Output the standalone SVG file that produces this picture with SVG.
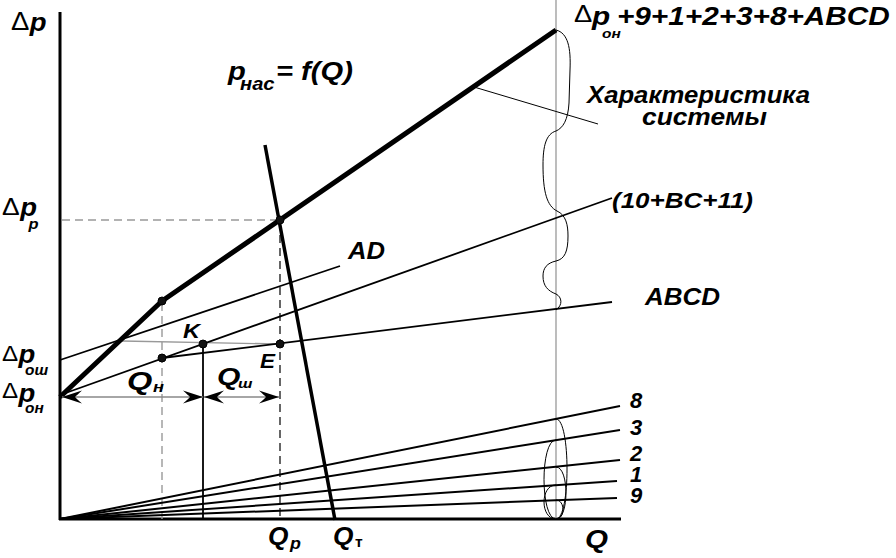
<svg xmlns="http://www.w3.org/2000/svg" width="896" height="558" viewBox="0 0 896 558">
<style>
.t{font-family:"Liberation Sans",Arial,sans-serif;font-weight:bold;font-style:italic;fill:#000}
.d{font-family:"Liberation Sans",Arial,sans-serif;font-weight:normal;font-style:normal;fill:#000}
.u{font-family:"Liberation Sans",Arial,sans-serif;font-weight:bold;font-style:normal;fill:#000}
.ax{stroke:#000;stroke-width:3;fill:none}
.ln{stroke:#000;stroke-width:1.8;fill:none}
.ray{stroke:#000;stroke-width:2;fill:none}
.gray{stroke:#999;stroke-width:1.3;fill:none}
.gd{stroke:#999;stroke-width:1.4;stroke-dasharray:8 5;fill:none}
.bd{stroke:#000;stroke-width:1.2;stroke-dasharray:8 5;fill:none}
.br{stroke:#000;stroke-width:1;fill:none}
.dot{fill:#111;stroke:#000;stroke-width:1}
</style>
<defs>
<marker id="ah" viewBox="-21 -7 22 14" refX="0" refY="0" markerWidth="22" markerHeight="14" markerUnits="userSpaceOnUse" orient="auto-start-reverse">
<path d="M0,0 L-20,-6.5 Q-15,-2 -13,0 Q-15,2 -20,6.5 Z" fill="#000"/>
</marker>
</defs>
<g id="axes">
<line class="ax" x1="60" y1="12" x2="60" y2="520"/>
<line class="ax" x1="59" y1="519" x2="621" y2="519"/>
<line class="gray" x1="556" y1="0" x2="556" y2="519"/>
</g>
<g id="connectors">
<line class="gd" x1="62" y1="220" x2="278" y2="220"/>
<line class="bd" x1="280" y1="222" x2="280" y2="519"/>
<line class="gd" x1="162" y1="303" x2="162" y2="519"/>
<line class="ln" x1="203" y1="344" x2="203" y2="519" stroke-width="1.2"/>
<line class="gray" x1="122" y1="341" x2="280" y2="344"/>
<line class="ln" x1="60" y1="360" x2="340" y2="266"/>
<line class="ln" x1="60" y1="395" x2="612" y2="198"/>
<line class="ln" x1="162" y1="358" x2="612" y2="302"/>
<line class="ray" x1="60" y1="519" x2="620" y2="406"/>
<line class="ray" x1="60" y1="519" x2="620" y2="430"/>
<line class="ray" x1="60" y1="519" x2="620" y2="460"/>
<line class="ray" x1="60" y1="519" x2="617" y2="481"/>
<line class="ray" x1="60" y1="519" x2="617" y2="498"/>
<polyline points="60,397 162,301 556,30" fill="none" stroke="#000" stroke-width="5" stroke-linejoin="round"/>
<line x1="265" y1="145" x2="335" y2="520" stroke="#000" stroke-width="3.5"/>
<line class="br" x1="474" y1="87" x2="598" y2="124"/>
<line x1="62" y1="397" x2="203" y2="397" stroke="#888" stroke-width="1.3" marker-start="url(#ah)" marker-end="url(#ah)"/>
<line x1="204" y1="397" x2="279" y2="397" stroke="#888" stroke-width="1.3" marker-start="url(#ah)" marker-end="url(#ah)"/>
<path class="br" d="M556,30 C568,33 571,48 570,70 L569,103 C568,120 563,128 556,131 C546,134 543,146 543,165 C543,192 547,206 557,211 C566,215 568,225 568,236 C568,251 565,259 556,261 C547,263 543,268 543,276 C543,286 548,291 556,294 C562,297 563,305 556,310"/>
<path class="br" d="M556,419 C570.7,419 570.7,519 556,519"/>
<path class="br" d="M556,440 C540,440 540,519 556,519"/>
<path class="br" d="M556,467 C569.3,467 569.3,519 556,519"/>
<path class="br" d="M556,485 C540,485 540,519 556,519"/>
<path class="br" d="M556,500 C565.3,500 565.3,519 556,519"/>
</g>
<g id="points">
<circle class="dot" cx="162" cy="301" r="4"/>
<circle class="dot" cx="162" cy="358" r="4"/>
<circle class="dot" cx="203" cy="344" r="4"/>
<circle class="dot" cx="280" cy="344" r="4"/>
<circle class="dot" cx="280" cy="220" r="4"/>
</g>
<g id="label-dp">
<text transform="translate(11,30) scale(1.1,1)"><tspan class="d" font-size="25">Δ</tspan><tspan class="t" x="17" y="1" font-size="25">p</tspan></text>
</g>
<g id="label-dpp">
<text transform="translate(2,215) scale(1.1,1)"><tspan class="d" font-size="24">Δ</tspan><tspan class="t" x="16.5" y="1" font-size="25">p</tspan><tspan class="t" x="24" y="14" font-size="15">p</tspan></text>
</g>
<g id="label-dp0sh">
<text transform="translate(2,361) scale(1.1,1)"><tspan class="d" font-size="22">Δ</tspan><tspan class="t" x="15" y="2" font-size="25">p</tspan><tspan class="t" x="21" y="14" font-size="14">ош</tspan></text>
</g>
<g id="label-dp0n">
<text transform="translate(2,398) scale(1.1,1)"><tspan class="d" font-size="22">Δ</tspan><tspan class="t" x="15" y="4" font-size="25">p</tspan><tspan class="t" x="21" y="15" font-size="14">он</tspan></text>
</g>
<g id="label-pnas">
<text transform="translate(228,80) scale(1.12,1)"><tspan class="t" font-size="26">p</tspan><tspan class="t" x="10.7" y="10" font-size="18">нас</tspan><tspan class="t" x="42.9" y="0" font-size="26">= f(Q)</tspan></text>
</g>
<g id="label-total">
<text transform="translate(574,22) scale(1.19,1)"><tspan class="d" font-size="23">Δ</tspan><tspan class="t" x="15.1" y="3" font-size="25">p</tspan><tspan class="t" x="23.5" y="16" font-size="13">он</tspan><tspan class="t" x="36.1" y="3" font-size="25">+9+1+2+3+8+ABCD</tspan></text>
</g>
<g id="label-system">
<text class="t" x="587" y="103" font-size="23" textLength="223" lengthAdjust="spacingAndGlyphs">Характеристика</text>
<text class="t" x="642" y="125" font-size="23" textLength="125" lengthAdjust="spacingAndGlyphs">системы</text>
</g>
<g id="label-bc">
<text class="t" x="612" y="208" font-size="22" textLength="141" lengthAdjust="spacingAndGlyphs">(10+BC+11)</text>
</g>
<g id="label-abcd">
<text class="t" x="645" y="305" font-size="24" textLength="75" lengthAdjust="spacingAndGlyphs">ABCD</text>
</g>
<g id="label-ad">
<text class="t" x="348" y="259" font-size="23" textLength="37" lengthAdjust="spacingAndGlyphs">AD</text>
</g>
<g id="label-k"><text class="t" x="183" y="338" font-size="21" textLength="17" lengthAdjust="spacingAndGlyphs">K</text></g>
<g id="label-e"><text class="t" x="260" y="368" font-size="21" textLength="15" lengthAdjust="spacingAndGlyphs">E</text></g>
<g id="label-qn">
<text transform="translate(127,390) scale(1.3,1)"><tspan class="t" font-size="25">Q</tspan><tspan class="t" x="20" y="2" font-size="14">н</tspan></text>
</g>
<g id="label-qsh">
<text transform="translate(217,385) scale(1.25,1)"><tspan class="t" font-size="24">Q</tspan><tspan class="t" x="16.8" y="3" font-size="13">ш</tspan></text>
</g>
<g id="label-rays">
<text class="t" x="630" y="408" font-size="22">8</text>
<text class="t" x="630" y="435" font-size="22">3</text>
<text class="t" x="630" y="461" font-size="22">2</text>
<text class="t" x="630" y="482" font-size="22">1</text>
<text class="t" x="630" y="503" font-size="22">9</text>
</g>
<g id="label-qp">
<text transform="translate(268,545) scale(1.05,1)"><tspan class="t" font-size="25">Q</tspan><tspan class="t" x="21" y="4" font-size="17">p</tspan></text>
</g>
<g id="label-qt">
<text transform="translate(333,545) scale(1.05,1)"><tspan class="t" font-size="25">Q</tspan><tspan class="u" x="21" y="2" font-size="15">т</tspan></text>
</g>
<g id="label-q">
<text class="t" x="585" y="548" font-size="25" textLength="23" lengthAdjust="spacingAndGlyphs">Q</text>
</g>
</svg>
